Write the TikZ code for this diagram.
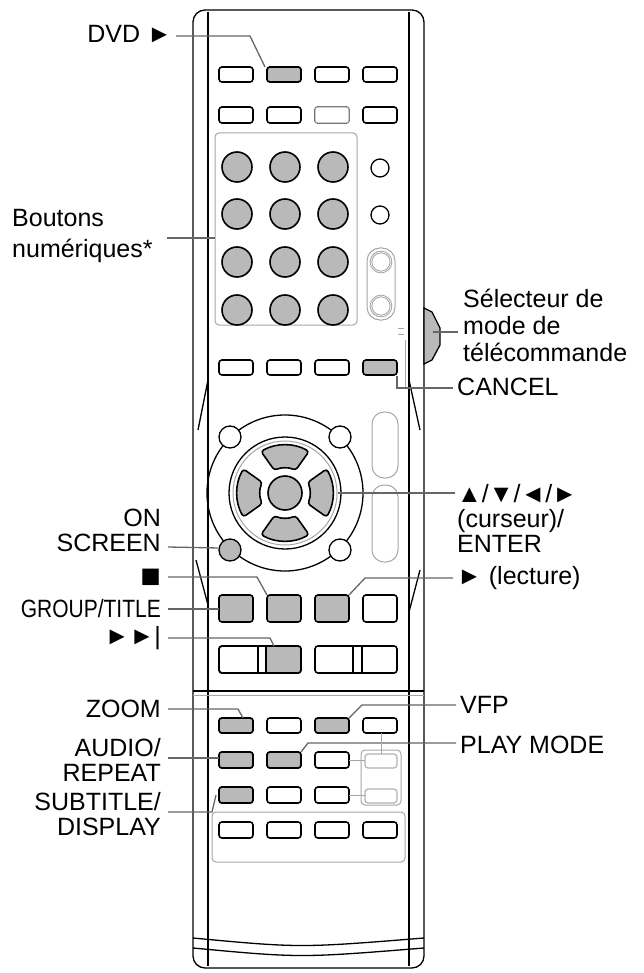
\documentclass[tikz,border=0pt]{standalone}
\usepackage{fontspec}
\setmainfont{Liberation Sans}
\begin{document}
\begin{tikzpicture}[x=1pt,y=-1pt,
  lbl/.style={font=\fontsize{25}{25}\selectfont, inner sep=0pt, align=left},
  lblr/.style={lbl, align=right},
  wbtn/.style={draw=black, line width=1.6pt, rounded corners=3pt, fill=white},
  gbtn/.style={wbtn, fill=gray!55},
  lbtn/.style={draw=gray!60, line width=1.2pt, rounded corners=3pt, fill=white},
  ldr/.style={draw=gray!80!black, line width=1.3pt},
  body/.style={draw=black, line width=1.3pt},
  thin/.style={draw=gray!70, line width=1pt}]
\useasboundingbox (0,0) rectangle (643,973);
% body
\draw[body, rounded corners=12pt] (193,10) rectangle (424,968);
\draw[body] (208,12) -- (208,966);
\draw[body] (409,12) -- (409,966);
\draw[body] (208,380) -- (198,430);
\draw[body] (196,560) -- (208,605);
\draw[body] (409,380) -- (420,430);
\draw[body] (420,570) -- (409,612);
\draw[body, line width=2pt] (193,691) -- (424,691);
\draw[thin] (193,695) -- (424,695);
\draw[body] (193,938) .. controls (300,948) .. (424,938);
\draw[body] (193,948) .. controls (300,958) .. (424,948);
% row1, row2
\foreach \x in {219,267,315,363}{
  \draw[wbtn] (\x,67) rectangle +(34,15);
  \draw[wbtn] (\x,107) rectangle +(34,16);
}
\draw[gbtn] (267,67) rectangle (301,82);
\draw[lbtn,fill=white] (315,107) rectangle (349,123);
% numeric block
\draw[thin, rounded corners=4pt] (215,133) rectangle (357,325);
\foreach \y in {167,214,262,310}
  \foreach \x in {237,285,333}
    \draw[gbtn, rounded corners=0] (\x,\y) circle (15);
\draw[body] (380,168) circle (9);
\draw[body] (380,215) circle (9);
\draw[thin, rounded corners=13pt] (367,248) rectangle (395,320);
\draw[thin, double] (381,262) circle (10);
\draw[thin, double] (381,306) circle (10);
% selector knob
\draw[body, fill=gray!55] (424,308) -- (432,312) -- (440,328) -- (440,345) -- (432,360) -- (424,364) -- cycle;
\node[inner sep=0pt] (knob) at (432,332) {};
\draw[thin] (398,328) -- (404,328) (398,334) -- (404,334);
\draw[thin] (405,340) -- (405,387);
% row 3
\foreach \x in {219,267,315}
  \draw[wbtn] (\x,360) rectangle +(34,15);
\draw[gbtn] (363,360) rectangle (397,375);
\node[inner sep=0pt] (cancelbtn) at (397,375) {};
% d-pad
\draw[body] (285,493) circle (78);
\draw[body, fill=white] (285,493) circle (56);
\draw[thin] (285,493) circle (52);
\draw[gbtn, rounded corners=0] (285,493) circle (17);
\node[inner sep=0pt] (dpad) at (337,493) {};
\foreach \a in {0,90,180,270}
  \draw[gbtn, rounded corners=3pt, shift={(285,493)}, rotate=\a]
    (30:48) arc (30:-30:48) -- (-25:25) arc (-25:25:25) -- cycle;
\draw[body, fill=white] (230,437) circle (11);
\draw[body, fill=white] (340,437) circle (11);
\draw[body, fill=gray!55] (230,550) circle (11);
\node[inner sep=0pt] (onscr) at (219,548) {};
\draw[body, fill=white] (340,550) circle (11);
\draw[thin, rounded corners=12pt] (372,412) rectangle (398,478);
\draw[thin, rounded corners=12pt] (372,485) rectangle (398,562);
% row of squares
\draw[gbtn] (219,595) rectangle (253,622);
\draw[gbtn] (267,595) rectangle (301,622);
\draw[gbtn] (315,595) rectangle (349,622);
\draw[wbtn] (363,595) rectangle (397,622);
% wide buttons
\draw[wbtn] (219,646) rectangle (301,673);
\fill[gray!55] (266,647) rectangle (300,672);
\draw[body] (258,646) -- (258,673) (266,646) -- (266,673);
\draw[wbtn, fill=none] (219,646) rectangle (301,673);
\draw[wbtn] (315,646) rectangle (397,673);
\draw[body] (353,646) -- (353,673) (362,646) -- (362,673);
% lower rows
\draw[thin, rounded corners=4pt] (361,750) rectangle (401,805);
\draw[thin, rounded corners=4pt] (212,812) rectangle (405,862);
\foreach \x in {219,267,315,363}{
  \draw[wbtn] (\x,718) rectangle +(34,15);
  \draw[wbtn] (\x,822) rectangle +(34,16);
}
\foreach \x in {219,267,315}{
  \draw[wbtn] (\x,752) rectangle +(34,16);
  \draw[wbtn] (\x,787) rectangle +(34,16);
}
\draw[lbtn] (365,754) rectangle (397,768);
\draw[lbtn] (365,789) rectangle (397,803);
\draw[thin] (349,760) -- (365,760) (349,795) -- (365,795);
\draw[gbtn] (219,718) rectangle (253,733);
\draw[gbtn] (315,718) rectangle (349,733);
\draw[gbtn] (219,752) rectangle (253,768);
\draw[gbtn] (267,752) rectangle (301,768);
\draw[gbtn] (219,787) rectangle (253,803);
% labels left
\node[lblr, anchor=east] (ldvd) at (172,34) {DVD ►};
\draw[ldr] (176,36) -- (250,36) -- (265,67);
\node[lbl, anchor=west, font=\fontsize{25}{31}\selectfont] (lnum) at (12,236) {Boutons\\numériques*};
\draw[ldr] (167,238) -- (215,238);
\node[lblr, anchor=east] (lon) at (161,530) {ON\\SCREEN};
\draw[ldr] (168,547) -- (onscr);
\node[lblr, anchor=east, font=\fontsize{34}{34}\selectfont] (lstop) at (161,578) {■};
\draw[ldr] (168,577) -- (257,577) -- (267,595);
\node[lblr, anchor=east] (lgrp) at (161,609) {\scalebox{0.84}[1]{GROUP/TITLE}};
\draw[ldr] (168,609) -- (219,609);
\node[lblr, anchor=east] (lnext) at (161,638) {►►|};
\draw[ldr] (168,638) -- (270,638) -- (274,646);
\node[lblr, anchor=east] (lzoom) at (161,709) {ZOOM};
\draw[ldr] (168,709) -- (238,709) -- (243,718);
\node[lblr, anchor=east] (laud) at (161,760) {AUDIO/\\REPEAT};
\draw[ldr] (168,758) -- (219,758);
\node[lblr, anchor=east] (lsub) at (161,814) {SUBTITLE/\\DISPLAY};
\draw[ldr] (168,812) -- (212,812) -- (216,795);
% labels right
\node[lbl, anchor=west, font=\fontsize{25}{27}\selectfont] (lsel) at (463,325) {Sélecteur de\\mode de\\télécommande};
\draw[ldr] (knob) -- (458,332);
\node[lbl, anchor=west] (lcan) at (457,387) {CANCEL};
\draw[ldr] (cancelbtn) -- (397,388) -- (453,388);
\node[lbl, anchor=west] (lcur) at (457,518) {▲/▼/◄/►\\(curseur)/\\ENTER};
\draw[ldr] (dpad) -- (455,493);
\node[lbl, anchor=west] (llec) at (457,578) {► (lecture)};
\draw[ldr] (453,578) -- (365,578) -- (349,595);
\node[lbl, anchor=west] (lvfp) at (460,705) {VFP};
\draw[ldr] (456,705) -- (362,705) -- (349,718);
\node[lbl, anchor=west] (lplay) at (460,745) {PLAY MODE};
\draw[ldr] (456,743) -- (308,743) -- (301,752);
\draw[thin] (381,733) -- (381,754);
\end{tikzpicture}
\end{document}
